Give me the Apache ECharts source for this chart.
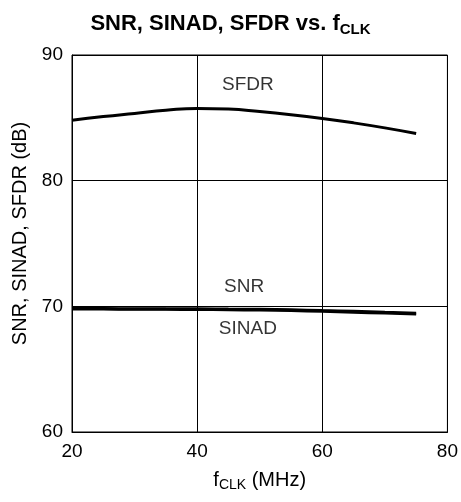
<!DOCTYPE html>
<html><head><meta charset="utf-8">
<script src="https://cdn.jsdelivr.net/npm/echarts@6/dist/echarts.min.js"></script>
<style>html,body{margin:0;padding:0;background:#fff}#c{width:461px;height:502px}</style>
</head><body><div id="c"></div>
<script>
const fclk = [20, 25, 30, 35, 40, 45, 50, 55, 60, 65, 70, 75];
const sfdr = [84.8, 85.1, 85.35, 85.6, 85.75, 85.7, 85.5, 85.25, 84.95, 84.6, 84.2, 83.75];
const snr = [69.82, 69.82, 69.81, 69.8, 69.8, 69.78, 69.76, 69.72, 69.66, 69.6, 69.52, 69.45];
const sinad = [69.78, 69.78, 69.77, 69.76, 69.75, 69.73, 69.7, 69.66, 69.6, 69.53, 69.46, 69.38];
const xTicks = [20, 40, 60, 80];
const yTicks = [60, 70, 80, 90];
const curveLabels = [[48.1, 87.6, 'SFDR'], [47.5, 71.55, 'SNR'], [48.1, 68.2, 'SINAD']];

const font = '"Liberation Sans", Arial, Helvetica, sans-serif';
const chart = echarts.init(document.getElementById('c'), null, {renderer: 'canvas'});
const pair = (xs, ys) => xs.map((x, i) => [x, ys[i]]);
chart.setOption({
  animation: false,
  backgroundColor: '#fff',
  title: {
    text: '{m|SNR, SINAD, SFDR vs. f}{s|CLK}',
    left: 'center', top: 5,
    textStyle: {
      rich: {
        m: {fontFamily: font, fontWeight: 'bold', fontSize: 22, color: '#000'},
        s: {fontFamily: font, fontWeight: 'bold', fontSize: 15, color: '#000', padding: [12, 0, 0, 0]}
      }
    }
  },
  grid: {left: 72, right: 13, top: 55, bottom: 70, show: true, borderColor: '#000', borderWidth: 1},
  xAxis: {
    type: 'value', min: xTicks[0], max: xTicks[xTicks.length - 1], interval: 20,
    name: '{m|f}{s|CLK}{m| (MHz)}', nameLocation: 'middle', nameGap: 36,
    nameTextStyle: {rich: {
      m: {fontFamily: font, fontSize: 20, color: '#000'},
      s: {fontFamily: font, fontSize: 14, color: '#000', padding: [10, 0, 0, 0]}
    }},
    axisLine: {lineStyle: {color: '#000', width: 1}},
    axisTick: {show: false},
    axisLabel: {fontFamily: font, fontSize: 19, color: '#000', margin: 10},
    splitLine: {lineStyle: {color: '#000', width: 1}}
  },
  yAxis: {
    type: 'value', min: yTicks[0], max: yTicks[yTicks.length - 1], interval: 10,
    name: 'SNR, SINAD, SFDR (dB)', nameLocation: 'middle', nameGap: 42,
    nameTextStyle: {fontFamily: font, fontSize: 20, color: '#000', padding: [0, 0, 0, 20]},
    axisLine: {lineStyle: {color: '#000', width: 1}},
    axisTick: {show: false},
    axisLabel: {fontFamily: font, fontSize: 19, color: '#000', margin: 9},
    splitLine: {lineStyle: {color: '#000', width: 1}}
  },
  series: [
    {name: 'SFDR', type: 'line', data: pair(fclk, sfdr), smooth: true, symbol: 'none',
     lineStyle: {color: '#000', width: 3}},
    {name: 'SNR', type: 'line', data: pair(fclk, snr), smooth: true, symbol: 'none',
     lineStyle: {color: '#000', width: 3}},
    {name: 'SINAD', type: 'line', data: pair(fclk, sinad), smooth: true, symbol: 'none',
     lineStyle: {color: '#000', width: 3}},
    {name: 'labels', type: 'scatter', symbolSize: 0, data: curveLabels.map(d => ({value: [d[0], d[1]], name: d[2]})),
     label: {show: true, position: 'inside', formatter: p => p.name, fontFamily: font, fontSize: 19, color: '#000'},
     silent: true}
  ]
});
</script></body></html>
